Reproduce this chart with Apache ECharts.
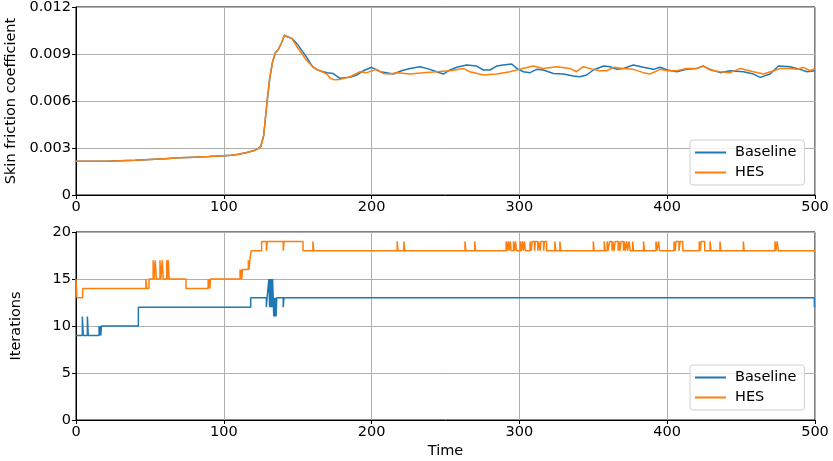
<!DOCTYPE html>
<html>
<head>
<meta charset="utf-8">
<script src="https://cdn.jsdelivr.net/npm/echarts@6/dist/echarts.min.js"></script>
<style>
html,body{margin:0;padding:0;background:#fff;}
#c{width:833px;height:461px;}
</style>
</head>
<body>
<div id="c"></div>
<script>
// ---- Data ----
const seriesNames = ['Baseline', 'HES'];
const xTicks = [0, 100, 200, 300, 400, 500];
const cfTicks = [0, 0.003, 0.006, 0.009, 0.012];
const iterTicks = [0, 5, 10, 15, 20];

// Skin friction coefficient: [time, value]
const baselineCf = [
  [0,0.00215],[10,0.00215],[20,0.00216],[30,0.00218],[40,0.00222],[50,0.00227],[60,0.00232],[70,0.00237],
  [80,0.00241],[90,0.00245],[100,0.0025],[105,0.00254],[110,0.0026],[115,0.0027],[120,0.00282],[123,0.00295],
  [125,0.0031],[127,0.0038],[129,0.0057],[131,0.0074],[133,0.0085],[135,0.0091],[137,0.0093],[139,0.0097],
  [141,0.0102],[143,0.0101],[146,0.0100],[150,0.0096],[153,0.0092],[156,0.0088],[160,0.0082],[163,0.0080],
  [166,0.0079],[170,0.0078],[174,0.00775],[178.6,0.00745],[185.4,0.00751],[189.9,0.00766],[194.4,0.00793],
  [200,0.00815],[205.7,0.00787],[210,0.0078],[214.7,0.00772],[220.3,0.00793],[226,0.00808],[232.8,0.00819],
  [239.5,0.00802],[244,0.00787],[248.5,0.00772],[253,0.00798],[257.6,0.00815],[264.3,0.0083],[271.1,0.00823],
  [275.6,0.00798],[280.1,0.00798],[284.6,0.00823],[289.1,0.0083],[294.8,0.00836],[298.2,0.00808],[302.7,0.00787],
  [307.2,0.00781],[311.7,0.00802],[316.2,0.00798],[323,0.00776],[329.7,0.00772],[336.5,0.0076],[341,0.00755],
  [345.5,0.00766],[350,0.00798],[357,0.00823],[361.3,0.00819],[365.9,0.00802],[370.4,0.00808],[377.1,0.0083],
  [383.9,0.00815],[390.7,0.00802],[395.2,0.00815],[400.2,0.00798],[406.5,0.00787],[413.2,0.00802],[420,0.00808],
  [424.5,0.00823],[429,0.00802],[435.8,0.00781],[442.6,0.00793],[451.6,0.00787],[458.4,0.00772],[462.9,0.00751],
  [469.6,0.00772],[475.3,0.00823],[483.2,0.00819],[490,0.00802],[494.5,0.00787],[500,0.00793]
];
const hesCf = [
  [0,0.00215],[10,0.00215],[20,0.00216],[30,0.00218],[40,0.00222],[50,0.00227],[60,0.00232],[70,0.00237],
  [80,0.00241],[90,0.00245],[100,0.0025],[105,0.00254],[110,0.0026],[115,0.0027],[120,0.00282],[123,0.00295],
  [125,0.0031],[127,0.0038],[129,0.0057],[131,0.0074],[133,0.0085],[135,0.0091],[137,0.0093],[139,0.0097],
  [141,0.0102],[143,0.0101],[146,0.0100],[150,0.0094],[153,0.0090],[156,0.0086],[160,0.0082],[163,0.0080],
  [166,0.0079],[170,0.0077],[172,0.00745],[175,0.00735],[178.6,0.00738],[185.4,0.00755],[192.2,0.00787],
  [196.7,0.00781],[203.4,0.00802],[207.9,0.00776],[212.4,0.00772],[217,0.00781],[226,0.00772],[235,0.00781],
  [244,0.00787],[253,0.00793],[262.1,0.00808],[266.6,0.00787],[275.6,0.00766],[284.6,0.00772],[293.6,0.00787],
  [300,0.00802],[309.4,0.00823],[316.2,0.00808],[325.2,0.00819],[334.2,0.00808],[338.7,0.00787],[343.2,0.00819],
  [350,0.00802],[354.5,0.00793],[359,0.00793],[363.6,0.00815],[370.4,0.00808],[377.1,0.00802],[383.9,0.00781],
  [388.4,0.00772],[395.2,0.00802],[400.2,0.00793],[406.5,0.00793],[413.2,0.00808],[420,0.00808],[424.5,0.00823],
  [429,0.00798],[435.8,0.00787],[442.6,0.00781],[449.4,0.00808],[458.4,0.00787],[465.2,0.00772],[472,0.00793],
  [476.5,0.00808],[483.2,0.00808],[487.7,0.00802],[492.2,0.00815],[496.7,0.00793],[500,0.00808]
];

// Iterations (step, value holds until next time): [time, iterations]
const baselineIter = [
  [0,9],[4.3,11],[4.9,9],[7.7,11],[8.3,9],[15.6,10],[16.0,9],[16.4,10],[16.8,9],[17.2,10],[42.2,12],
  [118.2,13],[128.8,12],[129.3,13],[130.5,15],[131.0,12],[131.4,15],[131.8,12],[132.2,15],[132.6,12],
  [133.0,15],[133.4,13],[133.8,11],[134.2,13],[134.6,11],[135.0,13],[135.4,11],[135.8,13],[140.2,12],
  [140.7,13],[499.6,12],[500,12]
];
const hesIter = [
  [0,15],[0.6,13],[4.5,14],[47.3,15],[47.9,14],[49.4,15],[52.2,17],[52.8,15],[53.6,17],[54.4,15],
  [56.8,17],[57.4,15],[58.4,17],[59.0,15],[61.4,17],[61.9,15],[62.4,17],[63.0,15],[74.4,14],[89.4,15],
  [89.8,14],[90.2,15],[90.6,14],[91.0,15],[111.0,16],[111.4,15],[111.8,16],[112.2,15],[112.6,16],
  [116.6,17],[117.1,16],[117.6,17],[118.5,18],[125.6,19],[128.8,18],[129.4,19],[140.2,18],[140.8,19],
  [153.6,18],[160.3,19],[160.9,18],[217.3,19],[217.9,18],[221.8,19],[222.4,18],[263.2,19],[263.8,18],
  [269.8,19],[270.4,18],[291.0,19],[291.6,18],[292.4,19],[293.0,18],[293.8,19],[294.4,18],[296.0,19],
  [296.6,18],[297.4,19],[298.0,18],[300.6,19],[301.2,18],[302.0,19],[302.6,18],[303.4,19],[304.0,18],
  [307.2,19],[308.0,18],[308.6,19],[310.2,18],[310.8,19],[312.4,18],[313.0,19],[314.0,18],[314.6,19],
  [316.4,18],[317.0,19],[318.4,18],[324.0,19],[324.6,18],[327.4,19],[328.0,18],[350.0,19],[350.6,18],
  [357.4,19],[358.0,18],[359.4,19],[360.0,18],[361.0,19],[362.6,18],[363.2,19],[364.0,18],[364.8,19],
  [366.8,18],[367.4,19],[368.0,18],[368.8,19],[370.4,18],[371.0,19],[371.6,18],[372.6,19],[373.2,18],
  [374.2,19],[375.0,18],[376.6,19],[377.2,18],[384.0,19],[384.6,18],[392.4,19],[393.0,18],[394.2,19],
  [394.8,18],[404.6,19],[405.4,18],[406.0,19],[408.0,18],[408.8,19],[410.6,18],[421.7,19],[422.4,18],
  [423.0,19],[425.4,18],[429.0,19],[429.6,18],[435.7,19],[436.3,18],[451.5,19],[452.1,18],[472.9,19],
  [473.6,18],[474.4,19],[475.2,18],[500,18]
];

// ---- Chart ----
const FONT = 'DejaVu Sans';
const FS = 14.5;
const BLUE = '#1f77b4', ORANGE = '#ff7f0e';

function xAxis(gridIndex, name) {
  return {
    type: 'value', gridIndex, min: xTicks[0], max: xTicks[xTicks.length-1], interval: 100,
    name: name || '', nameLocation: 'middle', nameGap: 24,
    nameTextStyle: {fontFamily: FONT, fontSize: FS, color: '#000'},
    axisLine: {show: true, lineStyle: {color: '#000', width: 1}},
    axisTick: {show: true, inside: false, length: 4, lineStyle: {color: '#000'}},
    axisLabel: {fontFamily: FONT, fontSize: FS, color: '#000', margin: 5},
    splitLine: {show: true, lineStyle: {color: '#b0b0b0', width: 1}}
  };
}
function yAxis(gridIndex, name, ticks, fmt) {
  return {
    type: 'value', gridIndex, min: ticks[0], max: ticks[ticks.length-1],
    interval: ticks[1]-ticks[0],
    name, nameLocation: 'middle', nameGap: 52, nameRotate: 90,
    nameTextStyle: {fontFamily: FONT, fontSize: FS, color: '#000'},
    axisLine: {show: true, lineStyle: {color: '#000', width: 1}},
    axisTick: {show: true, inside: false, length: 4, lineStyle: {color: '#000'}},
    axisLabel: {fontFamily: FONT, fontSize: FS, color: '#000', margin: 5, formatter: fmt},
    splitLine: {show: true, lineStyle: {color: '#b0b0b0', width: 1}}
  };
}
function legend(top) {
  return {
    data: seriesNames, orient: 'vertical', left: 690, top: top,
    icon: 'rect', itemWidth: 31, itemHeight: 2, itemGap: 5,
    padding: [5, 8, 5, 5],
    backgroundColor: 'rgba(255,255,255,0.8)', borderColor: '#d0d0d0', borderWidth: 1, borderRadius: 3,
    textStyle: {fontFamily: FONT, fontSize: FS, color: '#000', padding: [0, 0, 0, 4]},
    selectedMode: false
  };
}

const chart = echarts.init(document.getElementById('c'), null, {renderer: 'canvas'});
chart.setOption({
  animation: false,
  backgroundColor: '#fff',
  textStyle: {fontFamily: FONT},
  grid: [
    {left: 76, top: 7, width: 739, height: 188, show: true, borderColor: '#000', borderWidth: 1,
     backgroundColor: 'transparent', containLabel: false, outerBoundsMode: 'none'},
    {left: 76, top: 232, width: 739, height: 188, show: true, borderColor: '#000', borderWidth: 1,
     backgroundColor: 'transparent', containLabel: false, outerBoundsMode: 'none'}
  ],
  legend: [legend(140), legend(365)],
  xAxis: [xAxis(0), xAxis(1, 'Time')],
  yAxis: [
    yAxis(0, 'Skin friction coefficient', cfTicks, v => v === 0 ? '0' : v.toFixed(3)),
    yAxis(1, 'Iterations', iterTicks, v => String(v))
  ],
  series: [
    {name: seriesNames[0], type: 'line', xAxisIndex: 0, yAxisIndex: 0, data: baselineCf, showSymbol: false,
     lineStyle: {color: BLUE, width: 1.5}, itemStyle: {color: BLUE}, z: 3},
    {name: seriesNames[1], type: 'line', xAxisIndex: 0, yAxisIndex: 0, data: hesCf, showSymbol: false,
     lineStyle: {color: ORANGE, width: 1.5}, itemStyle: {color: ORANGE}, z: 4},
    {name: seriesNames[0], type: 'line', step: 'end', xAxisIndex: 1, yAxisIndex: 1, data: baselineIter, showSymbol: false,
     lineStyle: {color: BLUE, width: 1.5}, itemStyle: {color: BLUE}, z: 3},
    {name: seriesNames[1], type: 'line', step: 'end', xAxisIndex: 1, yAxisIndex: 1, data: hesIter, showSymbol: false,
     lineStyle: {color: ORANGE, width: 1.5}, itemStyle: {color: ORANGE}, z: 4}
  ]
});
</script>
</body>
</html>
